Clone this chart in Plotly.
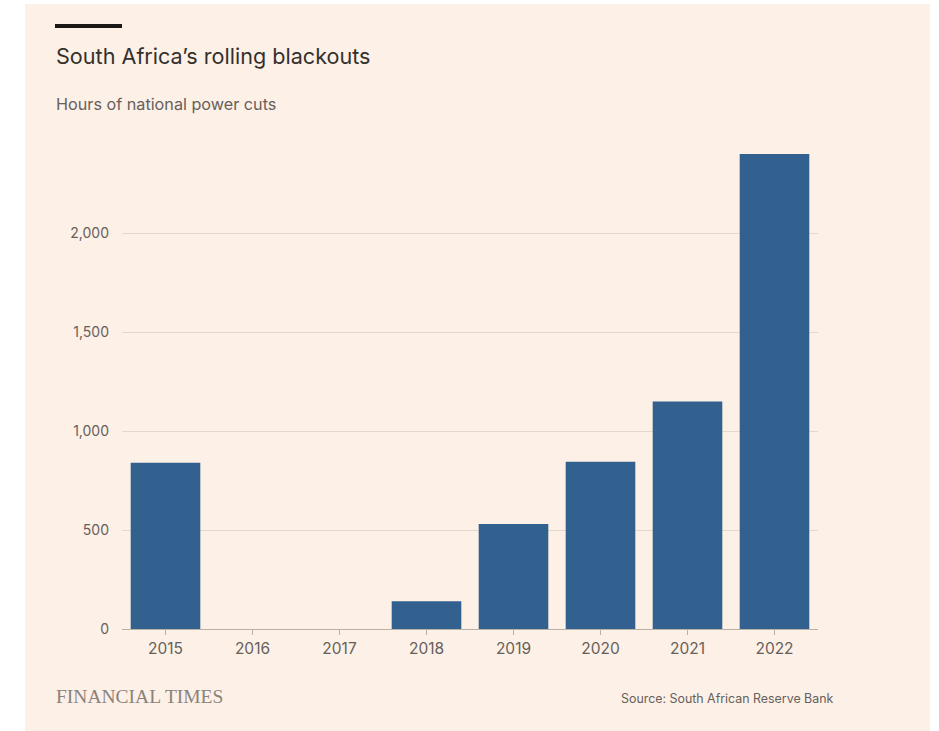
import plotly.graph_objects as go

years = ["2015", "2016", "2017", "2018", "2019", "2020", "2021", "2022"]
hours = [840, 0, 0, 140, 530, 845, 1150, 2400]
y_ticks = [0, 500, 1000, 1500, 2000]
y_tick_labels = ["0", "500", "1,000", "1,500", "2,000"]

W, H = 939, 731
L, R, T, B = 122, 818, 150, 629  # plot area in pixels
BG = "#fdf0e6"
TXT = "#66605c"
FONT = "Inter, Lato, sans-serif"


def px(x):
    return (x - L) / (R - L)


def py(y):
    return (B - y) / (B - T)


fig = go.Figure(
    go.Bar(
        x=years,
        y=hours,
        marker=dict(color="#33618f", line=dict(width=0)),
        hoverinfo="x+y",
    )
)

shapes = [
    # white border strips around the peach panel
    dict(type="rect", xref="paper", yref="paper", x0=px(0), x1=px(25), y0=py(H), y1=py(0),
         fillcolor="white", line_width=0, layer="below"),
    dict(type="rect", xref="paper", yref="paper", x0=px(0), x1=px(W), y0=py(4), y1=py(0),
         fillcolor="white", line_width=0, layer="below"),
    dict(type="rect", xref="paper", yref="paper", x0=px(930), x1=px(W), y0=py(H), y1=py(0),
         fillcolor="white", line_width=0, layer="below"),
    # FT black rule above title
    dict(type="line", xref="paper", yref="paper", x0=px(55), x1=px(122), y0=py(26), y1=py(26),
         line=dict(color="#1a1817", width=4)),
]

annotations = [
    dict(text="South Africa\u2019s rolling blackouts", xref="paper", yref="paper",
         x=px(54), y=py(56), xanchor="left", yanchor="middle", showarrow=False,
         font=dict(family=FONT, size=21.6, color="#33302e")),
    dict(text="Hours of national power cuts", xref="paper", yref="paper",
         x=px(54), y=py(104), xanchor="left", yanchor="middle", showarrow=False,
         font=dict(family=FONT, size=16.2, color=TXT)),
    dict(text="FINANCIAL TIMES", xref="paper", yref="paper",
         x=px(54), y=py(696), xanchor="left", yanchor="middle", showarrow=False,
         font=dict(family="'Liberation Serif', 'DejaVu Serif', serif", size=19.5, color="#8a837d")),
    dict(text="Source: South African Reserve Bank", xref="paper", yref="paper",
         x=px(836), y=py(698), xanchor="right", yanchor="middle", showarrow=False,
         font=dict(family=FONT, size=12.4, color=TXT)),
]

fig.update_layout(
    width=W, height=H,
    margin=dict(l=L, r=W - R, t=T, b=H - B, pad=0),
    paper_bgcolor=BG, plot_bgcolor="rgba(0,0,0,0)",
    bargap=0.2,
    showlegend=False,
    shapes=shapes,
    annotations=annotations,
    font=dict(family=FONT, size=14, color=TXT),
    xaxis=dict(
        type="category", range=[-0.5, 7.5], showgrid=False,
        showline=True, linecolor="#b9b0a7", linewidth=1,
        ticks="outside", ticklen=5, tickcolor="#b9b0a7", tickwidth=1,
        tickfont=dict(family=FONT, size=15.5, color=TXT),
        fixedrange=True,
    ),
    yaxis=dict(
        range=[0, 2420], tickvals=y_ticks, ticktext=y_tick_labels,
        showgrid=True, gridcolor="#e3d8cd", gridwidth=1,
        zeroline=False, showline=False, ticks="",
        ticklabelstandoff=12,
        tickfont=dict(family=FONT, size=14, color=TXT),
        fixedrange=True,
    ),
)

fig.write_html("out.html")
